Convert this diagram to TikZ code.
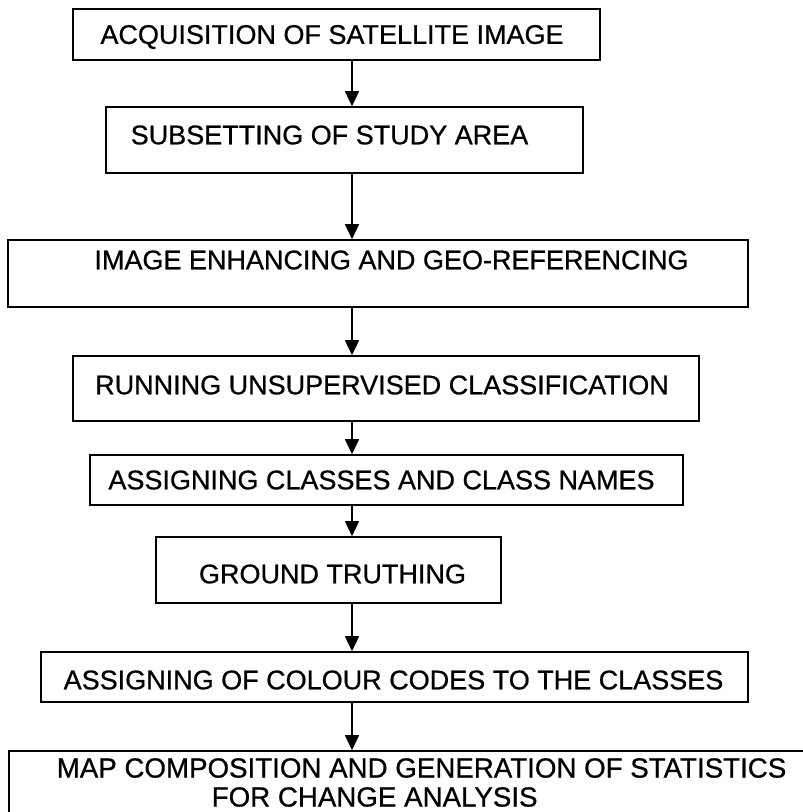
\documentclass[tikz,border=0pt]{standalone}
\usepackage{fontspec}
\setmainfont{Liberation Sans}[FakeBold=0.7]
\usetikzlibrary{arrows.meta}

\begin{document}
\begin{tikzpicture}[
  x=1pt, y=-1pt,
  block/.style={rectangle, draw, line width=1.6pt, inner sep=0pt},
  caption/.style={font=\fontsize{27}{29}\selectfont, inner sep=0pt},
  arrow/.style={-{Triangle[length=15pt, width=14pt]}, line width=1.5pt}
]
  \useasboundingbox (0,0) rectangle (803,812);
  \clip (0,0) rectangle (803,812);
  \coordinate (spine) at (352,0);

  \node[block, minimum width=527pt, minimum height=51pt,
    label={[caption, shift={(-4.5,2.5)}]center:ACQUISITION OF SATELLITE IMAGE}] (acquire) at (336.5,34.5) {};
  \node[block, minimum width=477pt, minimum height=66pt,
    label={[caption, shift={(-15,-5)}]center:SUBSETTING OF STUDY AREA}] (subset) at (344.5,140) {};
  \node[block, minimum width=740pt, minimum height=67pt,
    label={[caption, shift={(13.5,-13.5)}]center:IMAGE ENHANCING AND GEO-REFERENCING}] (enhance) at (378,273.5) {};
  \node[block, minimum width=626pt, minimum height=65pt,
    label={[caption, shift={(-4,-3.5)}]center:RUNNING UNSUPERVISED CLASSIFICATION}] (classify) at (386,388.5) {};
  \node[block, minimum width=593pt, minimum height=50pt,
    label={[caption, shift={(-5,0)}]center:ASSIGNING CLASSES AND CLASS NAMES}] (names) at (386.5,480) {};
  \node[block, minimum width=345pt, minimum height=66pt,
    label={[caption, shift={(4,4)}]center:GROUND TRUTHING}] (ground) at (328.5,570) {};
  \node[block, minimum width=707pt, minimum height=50pt,
    label={[caption, shift={(-1,3)}]center:ASSIGNING OF COLOUR CODES TO THE CLASSES}] (colour) at (394.5,677) {};
  \node[block, minimum width=821pt, minimum height=109pt,
    label={[caption, font=\fontsize{27.7}{29}\selectfont, align=left, shift={(2,-23)}]center:MAP COMPOSITION AND GENERATION OF STATISTICS\\\hspace*{155pt}FOR CHANGE ANALYSIS}] (mapping) at (419.5,805.5) {};

  \draw[arrow] (acquire.south -| spine) -- (subset.north -| spine);
  \draw[arrow] (subset.south -| spine) -- (enhance.north -| spine);
  \draw[arrow] (enhance.south -| spine) -- (classify.north -| spine);
  \draw[arrow] (classify.south -| spine) -- (names.north -| spine);
  \draw[arrow] (names.south -| spine) -- (ground.north -| spine);
  \draw[arrow] (ground.south -| spine) -- (colour.north -| spine);
  \draw[arrow] (colour.south -| spine) -- (mapping.north -| spine);
\end{tikzpicture}
\end{document}
